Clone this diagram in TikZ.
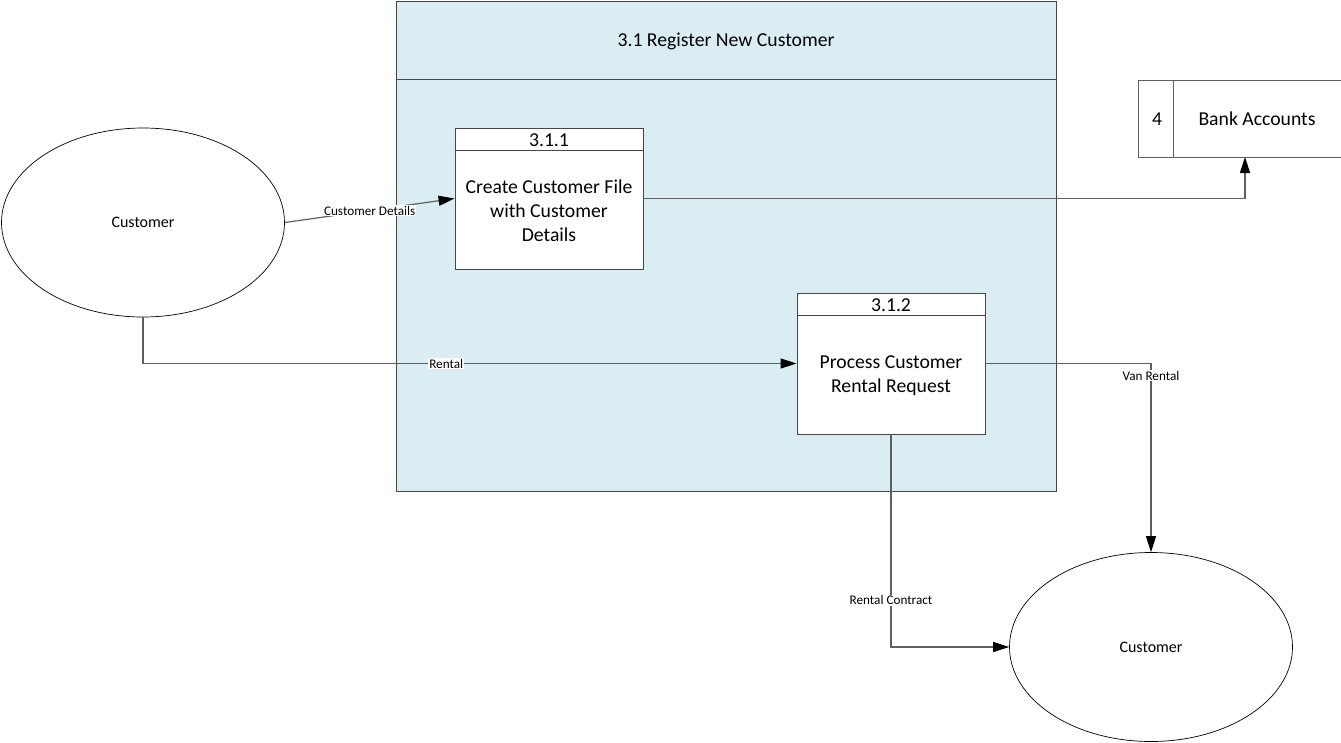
\documentclass[tikz,border=0pt]{standalone}
\usepackage{fontspec}
\setmainfont{Carlito}
\usetikzlibrary{arrows.meta,shapes.geometric}
\definecolor{groupfill}{RGB}{218,237,243}
\definecolor{edgegray}{RGB}{95,95,95}
\definecolor{boxgray}{RGB}{70,70,70}
\begin{document}
\begin{tikzpicture}[x=1pt,y=-1pt,
  flow/.style={draw=edgegray,line width=1.2pt,-{Triangle[length=16pt,width=10pt,color=black]}},
  lbl/.style={fill=white,inner sep=1pt,text=black,font=\fontsize{13.2}{15}\selectfont},
  proc/.style={draw=boxgray,fill=white,line width=0.9pt,rectangle,minimum width=188pt,minimum height=141pt,inner sep=0pt},
  ent/.style={draw=black,fill=white,ellipse,line width=0.7pt,minimum width=283pt,minimum height=189pt,inner sep=0pt,font=\fontsize{16}{19}\selectfont},
  big/.style={font=\fontsize{19.7}{24}\selectfont,align=center,inner sep=0pt},
  store/.style={draw=edgegray,line width=0.9pt}
]
\useasboundingbox (0,0) rectangle (1341,742);
% group box
\node[draw=boxgray,fill=groupfill,line width=0.9pt,minimum width=660pt,minimum height=490pt,inner sep=0pt] (grp) at (726,246) {};
\draw[draw=boxgray,line width=0.9pt] (grp.north west) ++(0,79) -- ++(660,0);
\node[font=\fontsize{19.7}{24}\selectfont] (title) at (726,41) {3.1 Register New Customer};
% process 3.1.1
\node[proc] (p1) at (549,198.5) {};
\draw[draw=boxgray,line width=0.9pt] (p1.north west) ++(0,23) -- ++(188,0);
\node[big] (p1h) at (549,140) {3.1.1};
\node[big] (p1t) at (549,211) {Create Customer File\\with Customer\\Details};
% process 3.1.2
\node[proc] (p2) at (891,363.5) {};
\draw[draw=boxgray,line width=0.9pt] (p2.north west) ++(0,23) -- ++(188,0);
\node[big] (p2h) at (891,305) {3.1.2};
\node[big] (p2t) at (891,376) {Process Customer\\Rental Request};
% data store
\node[minimum width=202pt,minimum height=76pt,inner sep=0pt] (bank) at (1240,119) {};
\draw[store] (bank.north east) -- (bank.north west) -- (bank.south west) -- (bank.south east);
\draw[store] ([xshift=35pt]bank.north west) -- ([xshift=35pt]bank.south west);
\node[big] (bankn) at (1157,119) {4};
\node[big] (bankt) at (1257,119) {Bank Accounts};
\coordinate (bankin) at (1245,157);
% entities
\node[ent] (c1) at (143,222.5) {Customer};
\node[ent] (c2) at (1151,647) {Customer};
% flows
\draw[flow] (c1.east) -- (p1.west) node[lbl,pos=0.5] {Customer Details};
\draw[flow] (p1.east) -| (bankin);
\draw[flow] (c1.south) |- (p2.west) node[lbl,pos=0.732] {Rental};
\draw[flow] (p2.east) -| (c2.north) node[lbl,pos=0.532] {Van Rental};
\draw[flow] (p2.south) |- (c2.west) node[lbl,pos=0.39] {Rental Contract};
\end{tikzpicture}
\end{document}
